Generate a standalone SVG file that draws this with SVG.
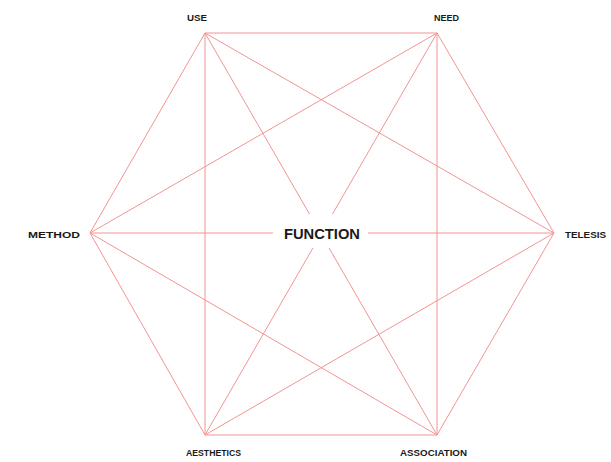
<svg xmlns="http://www.w3.org/2000/svg" width="611" height="462" viewBox="0 0 611 462">
<style>
.e{stroke:#f29494;stroke-width:1;fill:none}
.l{font-family:"Liberation Sans",Arial,sans-serif;font-weight:bold;font-size:9px;fill:#1a1a1a}
.c{font-family:"Liberation Sans",Arial,sans-serif;font-weight:bold;font-size:14.5px;fill:#1a1a1a}
</style>
<rect width="611" height="462" fill="#ffffff"/>
<g id="connectors">
<line class="e" x1="205" y1="33" x2="437" y2="33"/>
<line class="e" x1="205" y1="33" x2="90" y2="233"/>
<line class="e" x1="205" y1="33" x2="205" y2="435"/>
<line class="e" x1="205" y1="33" x2="437" y2="435"/>
<line class="e" x1="205" y1="33" x2="554" y2="233"/>
<line class="e" x1="437" y1="33" x2="90" y2="233"/>
<line class="e" x1="437" y1="33" x2="205" y2="435"/>
<line class="e" x1="437" y1="33" x2="437" y2="435"/>
<line class="e" x1="437" y1="33" x2="554" y2="233"/>
<line class="e" x1="90" y1="233" x2="554" y2="233"/>
<line class="e" x1="90" y1="233" x2="205" y2="435"/>
<line class="e" x1="90" y1="233" x2="437" y2="435"/>
<line class="e" x1="205" y1="435" x2="437" y2="435"/>
<line class="e" x1="205" y1="435" x2="554" y2="233"/>
<line class="e" x1="437" y1="435" x2="554" y2="233"/>
</g>
<g id="function">
<rect x="273" y="214" width="95" height="34" fill="#ffffff"/>
<text class="c" x="322" y="239" text-anchor="middle" textLength="76" lengthAdjust="spacingAndGlyphs">FUNCTION</text>
</g>
<g id="use"><text class="l" x="187" y="21" textLength="20" lengthAdjust="spacingAndGlyphs">USE</text></g>
<g id="need"><text class="l" x="434" y="21" textLength="25" lengthAdjust="spacingAndGlyphs">NEED</text></g>
<g id="method"><text class="l" x="28" y="238" textLength="52" lengthAdjust="spacingAndGlyphs">METHOD</text></g>
<g id="telesis"><text class="l" x="565" y="238" textLength="41" lengthAdjust="spacingAndGlyphs">TELESIS</text></g>
<g id="aesthetics"><text class="l" x="186" y="456" textLength="55" lengthAdjust="spacingAndGlyphs">AESTHETICS</text></g>
<g id="association"><text class="l" x="400" y="456" textLength="67" lengthAdjust="spacingAndGlyphs">ASSOCIATION</text></g>
</svg>
